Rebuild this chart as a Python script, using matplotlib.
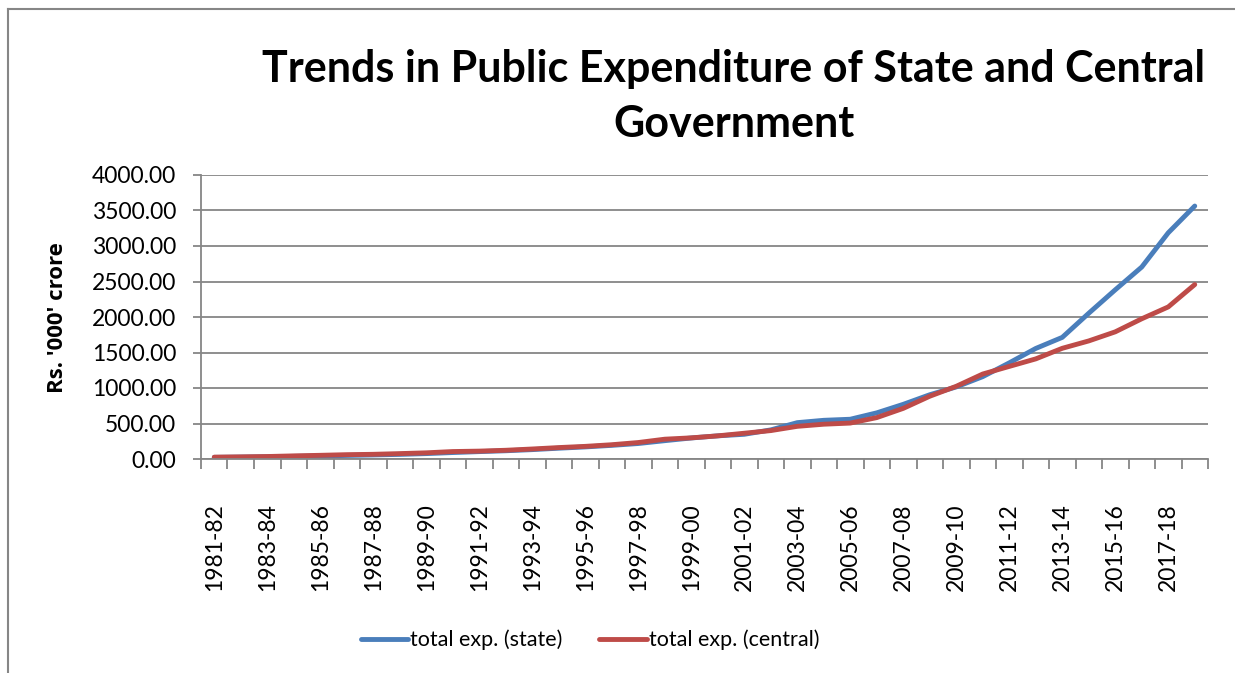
import matplotlib

matplotlib.use("Agg")
import matplotlib.pyplot as plt  # noqa: E402
from matplotlib.lines import Line2D  # noqa: E402
from matplotlib.ticker import FixedLocator, NullFormatter  # noqa: E402

plt.rcParams["font.family"] = ["Lato", "DejaVu Sans"]

years = [
    "1981-82", "1982-83", "1983-84", "1984-85", "1985-86", "1986-87", "1987-88",
    "1988-89", "1989-90", "1990-91", "1991-92", "1992-93", "1993-94", "1994-95",
    "1995-96", "1996-97", "1997-98", "1998-99", "1999-00", "2000-01", "2001-02",
    "2002-03", "2003-04", "2004-05", "2005-06", "2006-07", "2007-08", "2008-09",
    "2009-10", "2010-11", "2011-12", "2012-13", "2013-14", "2014-15", "2015-16",
    "2016-17", "2017-18", "2018-19",
]

# Rs. '000 crore
state_exp = [
    23, 27, 31, 37, 43, 50, 57, 65, 76, 91, 104, 116, 132, 152, 170, 192, 218,
    258, 296, 326, 348, 410, 512, 545, 560, 650, 770, 905, 1015, 1160, 1354,
    1557, 1713, 2053, 2383, 2704, 3186, 3563,
]
central_exp = [
    26, 30, 35, 44, 52, 61, 66, 76, 87, 105, 111, 123, 141, 161, 178, 201, 232,
    279, 298, 326, 363, 400, 460, 490, 506, 583, 713, 884, 1024, 1197, 1304,
    1410, 1559, 1663, 1791, 1975, 2142, 2457,
]

GREY = "#868686"
W, H = 1235, 673

fig = plt.figure(figsize=(W / 100, H / 100), dpi=100)
ax = fig.add_axes([201 / W, 1 - 459 / H, 1007 / W, 284 / H])

x = range(len(years))
ax.plot(x, state_exp, color="#4A7EBB", linewidth=3.5, solid_capstyle="round",
        solid_joinstyle="round", label="total exp. (state)")
ax.plot(x, central_exp, color="#BE4B48", linewidth=3.5, solid_capstyle="round",
        solid_joinstyle="round", label="total exp. (central)")

ax.set_xlim(-0.5, len(years) - 0.5)
ax.set_ylim(0, 4000)
ax.set_yticks(range(0, 4001, 500))
ax.set_yticklabels([f"{v:.2f}" for v in range(0, 4001, 500)], fontsize=16.5)
ax.yaxis.grid(True, color=GREY, linewidth=1.3)
ax.set_axisbelow(True)

# tick marks sit between categories, labels on every other category
ax.xaxis.set_major_locator(FixedLocator([i - 0.5 for i in range(len(years) + 1)]))
ax.xaxis.set_major_formatter(NullFormatter())
ax.xaxis.set_minor_locator(FixedLocator(list(range(0, len(years), 2))))
ax.set_xticklabels(years[::2], minor=True, rotation=90, fontsize=16.5)
ax.tick_params(axis="x", which="major", length=7, width=1.3, color=GREY)
ax.tick_params(axis="x", which="minor", length=0, pad=32)
ax.tick_params(axis="y", length=6, width=1.3, color=GREY, pad=12)

for side in ("top", "right"):
    ax.spines[side].set_visible(False)
for side in ("left", "bottom"):
    ax.spines[side].set_color(GREY)
    ax.spines[side].set_linewidth(1.3)

fig.text(58 / W, 1 - 318 / H, "Rs. '000' crore", rotation=90, ha="center",
         va="center", fontsize=16, fontweight="bold", family=["Open Sans", "DejaVu Sans"])

fig.text(734 / W, 1 - 82 / H, "Trends in Public Expenditure of State and Central",
         ha="center", va="baseline", fontsize=31, fontweight="bold")
fig.text(734 / W, 1 - 137 / H, "Government",
         ha="center", va="baseline", fontsize=31, fontweight="bold")

fig.legend(loc="center", bbox_to_anchor=(590 / W, 1 - 640 / H), ncol=2,
           frameon=False, fontsize=15.5, handlelength=2.2, handletextpad=0.1,
           columnspacing=1.7)

# chart area border
fig.add_artist(Line2D([8 / W, 8 / W], [0, 1 - 9 / H],
                      transform=fig.transFigure, color=GREY, linewidth=1.5))
fig.add_artist(Line2D([8 / W, 1], [1 - 9 / H, 1 - 9 / H],
                      transform=fig.transFigure, color=GREY, linewidth=1.5))

fig.savefig("out.png", dpi=100)
